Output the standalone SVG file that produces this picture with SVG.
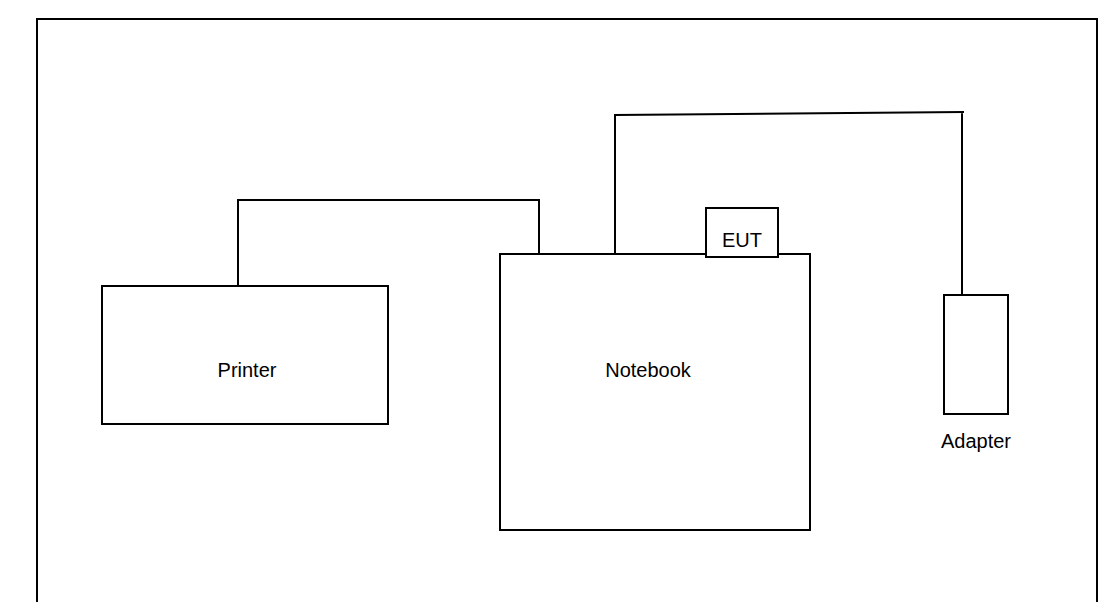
<svg xmlns="http://www.w3.org/2000/svg" width="1119" height="602" viewBox="0 0 1119 602">
<style>
.box{fill:#fff;stroke:#000;stroke-width:2}
.wire{fill:none;stroke:#000;stroke-width:2}
.lbl{font-family:"Liberation Sans",Arial,sans-serif;font-size:20px;fill:#000;text-anchor:middle}
</style>
<rect width="1119" height="602" fill="#fff"/>
<path class="wire" d="M37,603 V19 H1097 V603"/>
<g id="connectors">
<path class="wire" d="M238,286 V200 H539 V254"/>
<path class="wire" d="M615,254 V115 L964,112 M962,112 V295"/>
</g>
<g id="printer">
<rect class="box" x="102" y="286" width="286" height="138"/>
<text class="lbl" x="247" y="377">Printer</text>
</g>
<g id="notebook">
<rect class="box" x="500" y="254" width="310" height="276"/>
<text class="lbl" x="648" y="377">Notebook</text>
</g>
<g id="eut">
<rect class="box" x="706" y="208" width="72" height="49"/>
<text class="lbl" x="742" y="247">EUT</text>
</g>
<g id="adapter">
<rect class="box" x="944" y="295" width="64" height="119"/>
<text class="lbl" x="976" y="448">Adapter</text>
</g>
</svg>
